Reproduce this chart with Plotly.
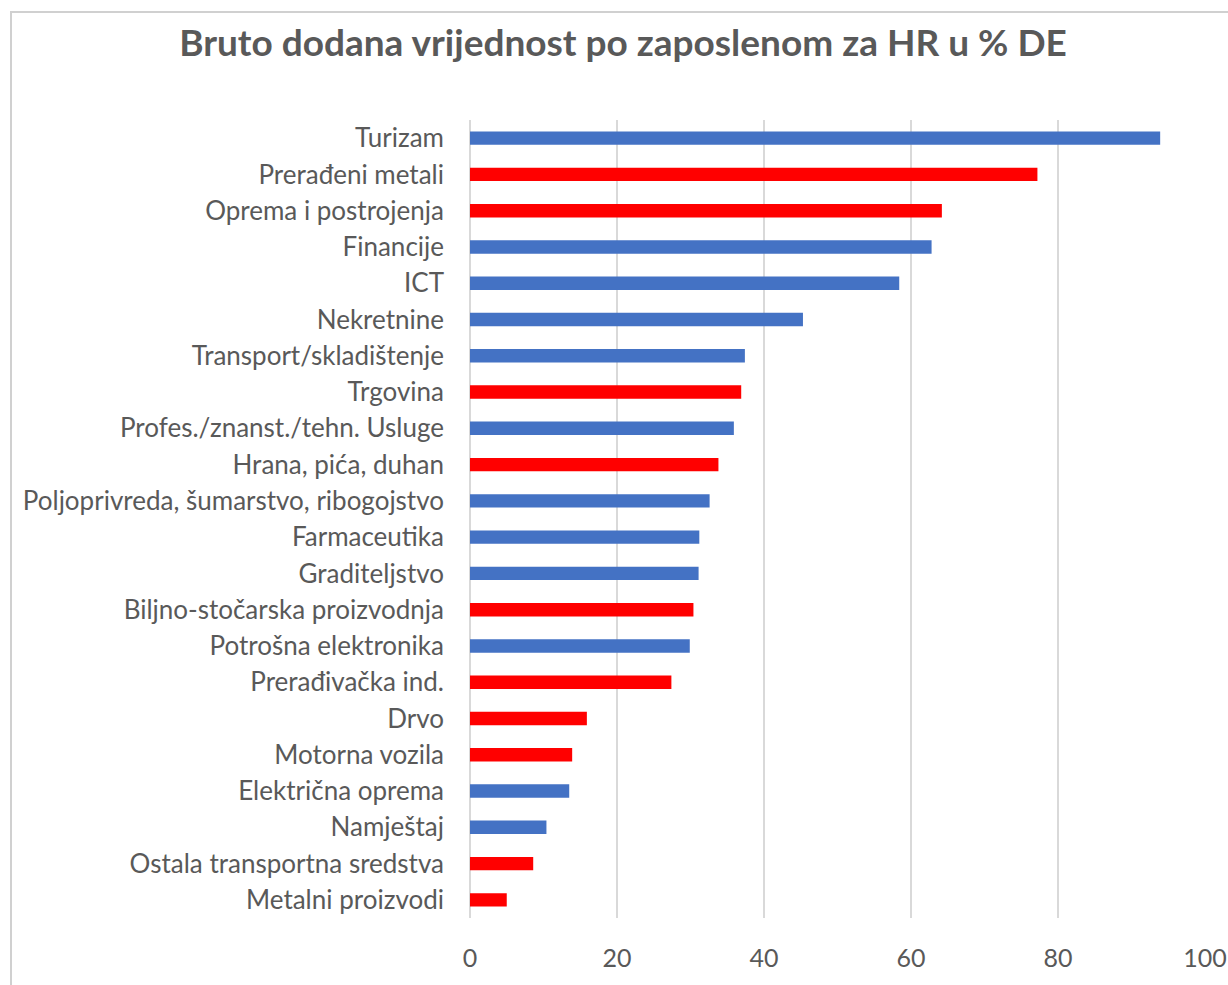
import plotly.graph_objects as go

categories = [
    "Turizam", "Prerađeni metali", "Oprema i postrojenja", "Financije", "ICT",
    "Nekretnine", "Transport/skladištenje", "Trgovina", "Profes./znanst./tehn. Usluge",
    "Hrana, pića, duhan", "Poljoprivreda, šumarstvo, ribogojstvo", "Farmaceutika",
    "Graditeljstvo", "Biljno-stočarska proizvodnja", "Potrošna elektronika",
    "Prerađivačka ind.", "Drvo", "Motorna vozila", "Električna oprema", "Namještaj",
    "Ostala transportna sredstva", "Metalni proizvodi",
]
values = [93.9, 77.2, 64.2, 62.8, 58.4, 45.3, 37.4, 36.9, 35.9, 33.8, 32.6, 31.2,
          31.1, 30.4, 29.9, 27.4, 15.9, 13.9, 13.5, 10.4, 8.6, 5.0]
groups = ["b", "r", "r", "b", "b", "b", "b", "r", "b", "r", "b", "b",
          "b", "r", "b", "r", "r", "r", "b", "b", "r", "r"]
tick_vals = [0, 20, 40, 60, 80, 100]

BLUE = "#4472C4"
RED = "#FF0000"
colors = [BLUE if g == "b" else RED for g in groups]

fig = go.Figure(go.Bar(
    x=values, y=categories, orientation="h",
    marker=dict(color=colors, line=dict(width=0)),
))

W, H = 1228, 985
L, T, PW, PH = 470, 120, 735, 798
font_family = "Lato, 'Liberation Sans', sans-serif"
fig.update_layout(
    width=W, height=H,
    margin=dict(l=L, r=W - L - PW, t=T, b=H - T - PH, autoexpand=False),
    paper_bgcolor="white", plot_bgcolor="white",
    bargap=0.63,
    showlegend=False,
    title=dict(
        text="<b>Bruto dodana vrijednost po zaposlenom za HR u % DE</b>",
        x=623 / W, xanchor="center", y=1 - 43 / H, yanchor="middle",
        font=dict(family=font_family, size=37, color="#595959"),
    ),
    font=dict(family=font_family, color="#595959"),
)
fig.update_xaxes(
    range=[0, 100], tickvals=tick_vals, showgrid=True, gridcolor="#D9D9D9",
    gridwidth=1.5, zeroline=True, zerolinecolor="#D9D9D9", zerolinewidth=1.5,
    showline=False, ticks="", tickfont=dict(size=25, color="#595959"),
    ticklabelstandoff=23, fixedrange=True, automargin=False,
)
fig.update_yaxes(
    autorange="reversed", showgrid=False, showline=False, ticks="",
    tickfont=dict(size=26, color="#595959"), ticklabelstandoff=25, automargin=False,
)
# outer chart border (cropped at right/bottom in the reference)
fig.add_shape(type="rect", xref="paper", yref="paper",
              x0=(11 - L) / PW, x1=1.2, y0=-0.3, y1=(T + PH - 12) / PH,
              line=dict(color="#D0D0D0", width=2), fillcolor="rgba(0,0,0,0)", layer="below")

fig.write_html(
    "out.html",
    config={"displayModeBar": False},
    post_script="document.body.style.margin='0';document.body.style.overflow='hidden';",
)
